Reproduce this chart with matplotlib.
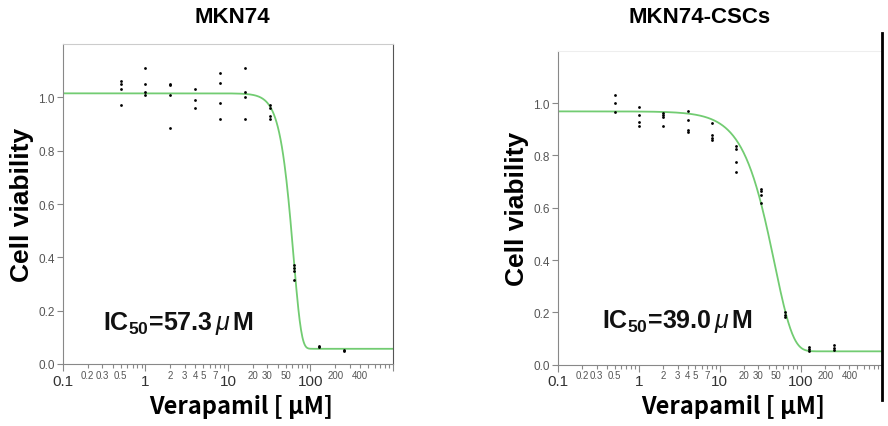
import numpy as np
import matplotlib
matplotlib.use('Agg')
import matplotlib.pyplot as plt
from matplotlib import ticker
from matplotlib.lines import Line2D

plt.rcParams['font.family'] = ['Liberation Sans', 'DejaVu Sans']
plt.rcParams['mathtext.fontset'] = 'custom'
plt.rcParams['mathtext.rm'] = 'Liberation Sans'
plt.rcParams['mathtext.it'] = 'Liberation Sans:italic'
plt.rcParams['mathtext.bf'] = 'Liberation Sans:bold'

# concentrations (uM)
conc = [0.5, 1, 2, 4, 8, 16, 32, 64, 128, 256]

# replicate viability readings per concentration
mkn74 = [
    [1.06, 1.05, 1.03, 0.97],
    [1.11, 1.05, 1.02, 1.01],
    [1.05, 1.045, 1.01, 0.885],
    [1.03, 0.99, 0.96],
    [1.09, 1.055, 0.98, 0.92],
    [1.11, 1.02, 1.00, 0.92],
    [0.97, 0.96, 0.93, 0.918],
    [0.37, 0.36, 0.35, 0.315],
    [0.069, 0.063],
    [0.052, 0.048],
]
mkn74_csc = [
    [1.03, 1.00, 0.967],
    [0.983, 0.954, 0.926, 0.911],
    [0.962, 0.954, 0.945, 0.912],
    [0.970, 0.936, 0.898, 0.891],
    [0.925, 0.879, 0.867, 0.860],
    [0.835, 0.826, 0.776, 0.736],
    [0.671, 0.663, 0.647, 0.616],
    [0.200, 0.191, 0.183],
    [0.066, 0.060, 0.053],
    [0.074, 0.064, 0.057],
]

# fitted curve parameters: top, bottom, IC50, slope
fit_mkn74 = (1.015, 0.057, 57.3, 4.5)
fit_csc = (0.968, 0.051, 39.0, 1.9)

titles = ['MKN74', 'MKN74-CSCs']
ic50_labels = ['57.3', '39.0']

major_labels = {0.1: '0.1', 1: '1', 10: '10', 100: '100'}
minor_labels = {0.2: '0.2', 0.3: '0.3', 0.5: '0.5', 2: '2', 3: '3', 4: '4',
                5: '5', 7: '7', 20: '20', 30: '30', 50: '50', 200: '200',
                400: '400'}


def curve(x, top, bottom, ic50, h):
    return bottom + (top - bottom) * np.exp(-np.log(2) * (x / ic50) ** h)


def key(v):
    return round(v, 3) if v < 1 else int(round(v))


def draw_panel(ax, data, fit, ic50_txt, ic_x, ic_y):
    for c, vals in zip(conc, data):
        ax.plot([c] * len(vals), vals, 'o', color='black', ms=2.0, mew=0,
                zorder=3)
    xs = np.logspace(-1, 3, 500)
    ax.plot(xs, curve(xs, *fit), color='#72cc72', lw=1.3, zorder=2)

    ax.set_xscale('log')
    ax.set_xlim(0.1, 1000)
    ax.set_ylim(0, 1.2)
    ax.set_yticks([0, 0.2, 0.4, 0.6, 0.8, 1.0])
    ax.yaxis.set_major_formatter(ticker.FormatStrFormatter('%.1f'))
    ax.tick_params(axis='y', labelsize=8.5, labelcolor='#555555',
                   color='#888888', length=4, width=0.8, pad=2)

    ax.xaxis.set_major_locator(ticker.FixedLocator([0.1, 1, 10, 100, 1000]))
    ax.xaxis.set_major_formatter(ticker.FuncFormatter(
        lambda v, p: major_labels.get(key(v), '')))
    ax.xaxis.set_minor_locator(ticker.LogLocator(base=10, subs=np.arange(2, 10)))
    ax.xaxis.set_minor_formatter(ticker.FuncFormatter(
        lambda v, p: minor_labels.get(key(v), '')))
    ax.tick_params(axis='x', which='major', labelsize=11, labelcolor='#333333',
                   color='#888888', length=5, width=0.8, pad=2)
    ax.tick_params(axis='x', which='minor', labelsize=7, labelcolor='#555555',
                   color='#888888', length=3, width=0.8, pad=1)

    ax.spines['left'].set_color('#888888')
    ax.spines['bottom'].set_color('#888888')
    ax.spines['top'].set_color('#cccccc')

    ax.set_ylabel('Cell viability', fontsize=19, fontweight='bold', labelpad=3)
    ax.set_xlabel('Verapamil [ μM]', fontsize=17, fontweight='bold',
                  family=['Noto Sans CJK JP', 'DejaVu Sans'], va='center')
    ax.xaxis.set_label_coords(0.54, -0.13)
    ax.text(ic_x, ic_y, r'IC$_{\mathregular{50}}$=' + ic50_txt + r'$\,\mu\,$M',
            transform=ax.transAxes, fontsize=18, fontweight='bold',
            va='center', ha='left', color='#111111')


fig = plt.figure(figsize=(8.88, 4.27), dpi=100)
ax1 = fig.add_axes([0.0709, 0.1452, 0.3716, 0.7494])
ax2 = fig.add_axes([0.6284, 0.1436, 0.3645, 0.7354])

draw_panel(ax1, mkn74, fit_mkn74, ic50_labels[0], 0.12, 0.13)
draw_panel(ax2, mkn74_csc, fit_csc, ic50_labels[1], 0.135, 0.14)

ax1.spines['right'].set_color('#555555')
ax2.spines['top'].set_color('#eeeeee')
ax2.spines['right'].set_visible(False)
fig.add_artist(Line2D([0.9935, 0.9935], [0.06, 0.92], color='black', lw=2,
                      transform=fig.transFigure))

fig.text(0.262, 0.96, titles[0], fontsize=16, fontweight='bold', ha='center',
         va='center', family=['Liberation Sans Narrow', 'Liberation Sans'])
fig.text(0.788, 0.96, titles[1], fontsize=16, fontweight='bold', ha='center',
         va='center', family=['Liberation Sans Narrow', 'Liberation Sans'])

fig.savefig('out.png', dpi=100)
